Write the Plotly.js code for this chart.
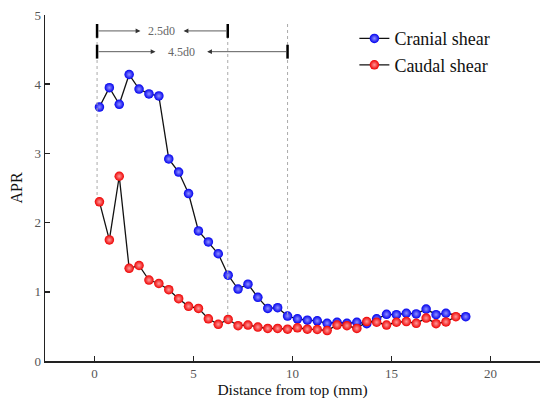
<!DOCTYPE html>
<html>
<head>
<meta charset="utf-8">
<script src="https://cdn.plot.ly/plotly-3.0.1.min.js"></script>
<style>html,body{margin:0;padding:0;background:#fff;}#chart{width:550px;height:409px;}</style>
</head>
<body>
<div id="chart"></div>
<script>
// Data
const distance = [0.25,0.75,1.25,1.75,2.25,2.75,3.25,3.75,4.25,4.75,5.25,5.75,6.25,6.75,7.25,7.75,8.25,8.75,9.25,9.75,10.25,10.75,11.25,11.75,12.25,12.75,13.25,13.75,14.25,14.75,15.25,15.75,16.25,16.75,17.25,17.75,18.25,18.75];
const cranial = [3.67,3.95,3.71,4.14,3.93,3.86,3.83,2.92,2.73,2.42,1.88,1.72,1.55,1.24,1.04,1.11,0.92,0.76,0.77,0.65,0.61,0.59,0.58,0.545,0.56,0.545,0.56,0.54,0.61,0.675,0.67,0.69,0.68,0.75,0.67,0.69,null,0.64];
const caudal  = [2.30,1.75,2.67,1.34,1.38,1.17,1.12,1.03,0.90,0.79,0.76,0.61,0.53,0.60,0.51,0.52,0.49,0.47,0.47,0.46,0.48,0.46,0.455,0.44,0.52,0.51,0.47,0.57,0.56,0.52,0.56,0.57,0.545,0.62,0.54,0.565,0.64,null];
const seriesNames = ['Cranial shear','Caudal shear'];
const xTicks = [0,5,10,15,20];
const yTicks = [0,1,2,3,4,5];

// Dimension markers (d0 spans)
const spanLabels = ['2.5d0','4.5d0'];
const spanStart = 0.13;
const spanEnds = [6.73, 9.75];
const spanRows = [4.77, 4.47];
const spanArrowL = [2.32, 3.08];
const spanArrowR = [4.50, 5.69];
const spanText = [3.40, 4.39];
const guideBottoms = [2.37, 0.60, 0.67];

const serif = '"Liberation Serif", "Times New Roman", Times, serif';

function trace(y, color, light, name) {
  const xs = [], ys = [];
  y.forEach((v,i)=>{ if (v!==null){ xs.push(distance[i]); ys.push(v);} });
  return {
    x: xs, y: ys, name: name, type: 'scatter', mode: 'lines+markers',
    line: {color: '#111', width: 1.3},
    marker: {color: color, size: 9.5, line: {width: 0},
             gradient: {type: 'radial', color: light}}
  };
}

const data = [
  trace(cranial, '#0000ee', '#9090ff', seriesNames[0]),
  trace(caudal, '#ee0000', '#ff9a9a', seriesNames[1])
];

const shapes = [];
const annotations = [];
const guideX = [spanStart, spanEnds[0], spanEnds[1]];
guideX.forEach((gx,i)=>{
  shapes.push({type:'line', xref:'x', yref:'y', x0:gx, x1:gx, y0:4.87, y1:guideBottoms[i],
    line:{color:'#aaa', width:1, dash:'dot'}});
});
spanRows.forEach((ry,i)=>{
  [spanStart, spanEnds[i]].forEach(bx=>{
    shapes.push({type:'line', xref:'x', yref:'y', x0:bx, x1:bx, y0:ry-0.1, y1:ry+0.1,
      line:{color:'#000', width:2.5}});
  });
  annotations.push({x:spanArrowL[i], y:ry, ax:spanStart, ay:ry, xref:'x', yref:'y', axref:'x', ayref:'y',
    text:'', showarrow:true, arrowhead:2, arrowsize:1.2, arrowwidth:0.8, arrowcolor:'#333'});
  annotations.push({x:spanArrowR[i], y:ry, ax:spanEnds[i], ay:ry, xref:'x', yref:'y', axref:'x', ayref:'y',
    text:'', showarrow:true, arrowhead:2, arrowsize:1.2, arrowwidth:0.8, arrowcolor:'#333'});
  annotations.push({x:spanText[i], y:ry, xref:'x', yref:'y', text:spanLabels[i], showarrow:false,
    font:{family:serif, size:12, color:'#666'}});
});

const axisCommon = {
  showline: true, linecolor: '#222', linewidth: 1.5, ticks: 'inside', ticklen: 5,
  tickcolor: '#222', tickwidth: 1.5, showgrid: false, zeroline: false,
  tickfont: {family: serif, size: 13, color: '#555'}
};

const layout = {
  width: 550, height: 409,
  margin: {l: 45, r: 10, t: 15, b: 48},
  paper_bgcolor: '#fff', plot_bgcolor: '#fff',
  font: {family: serif},
  showlegend: true,
  legend: {x: 0.625, y: 0.985, xanchor: 'left', yanchor: 'top', bgcolor: 'rgba(0,0,0,0)',
    font: {family: serif, size: 18, color: '#111'}, tracegroupgap: 0},
  xaxis: Object.assign({}, axisCommon, {range: [-2.5, 22.5], tickvals: xTicks,
    title: {text: 'Distance from top (mm)', font: {family: serif, size: 15.5, color: '#111'}, standoff: 4}}),
  yaxis: Object.assign({}, axisCommon, {range: [0, 5], tickvals: yTicks,
    title: {text: 'APR', font: {family: serif, size: 16, color: '#111'}, standoff: 8}}),
  shapes: shapes,
  annotations: annotations
};

Plotly.newPlot('chart', data, layout, {displayModeBar: false, staticPlot: true});
</script>
</body>
</html>
